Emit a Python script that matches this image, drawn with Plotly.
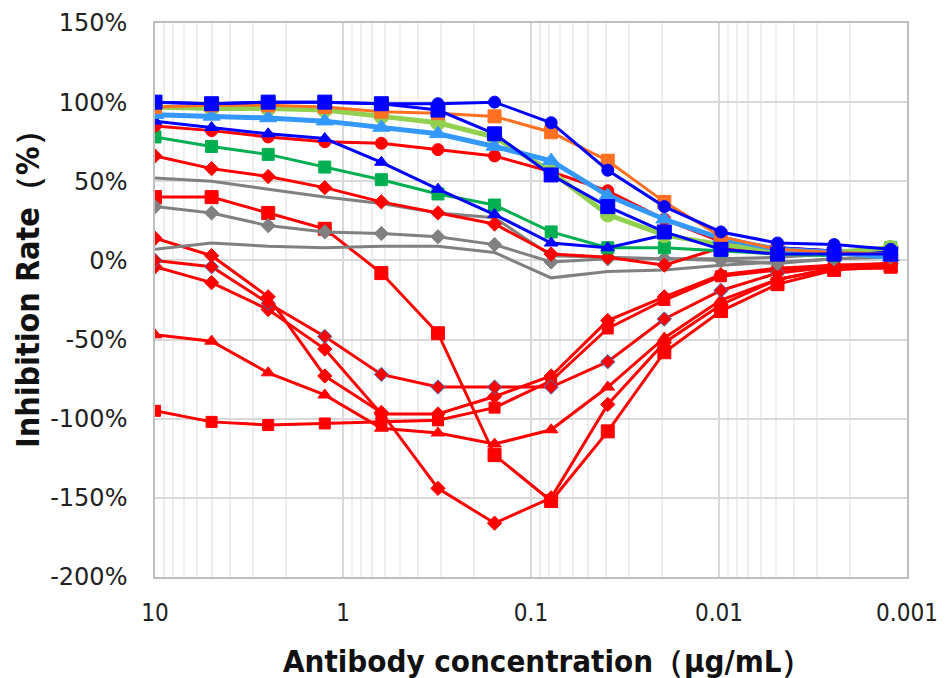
import plotly.graph_objects as go

# antibody concentrations (ug/mL), 2-fold dilution series
conc = [10, 5, 2.5, 1.25, 0.625, 0.3125, 0.15625, 0.078125, 0.0390625,
        0.01953125, 0.009765625, 0.0048828125, 0.00244140625, 0.001220703125]

# inhibition rate (%) per sample
blue_circle = [100, 99, 100, 100, 99, 99, 100, 87, 57, 34, 18, 11, 10, 7]
blue_square = [100, 99, 100, 100, 99, 95, 80, 54, 34, 18, 7, 4, 4, 4]
orange_square = [97, 98, 98, 97, 94, 93, 91, 81, 63, 37, 15, 7, 5, 4]
lgreen_circle = [97, 96, 96, 95, 91, 87, 78, 56, 29, 16, 10, 6, 5, 8]
lblue_triangle = [92, 91, 90, 88, 84, 80, 72, 63, 41, 26, 14, 7, 5, 2]
red_circle = [85, 82, 78, 75, 74, 70, 66, 56, 44, 26, 12, 8, 6, 5]
blue_triangle = [88, 84, 80, 77, 62, 45, 29, 11, 8, 16, 10, 8, 6, 5]
green_square = [78, 72, 67, 59, 51, 42, 35, 18, 8, 8, 6, 4, 3, 8]
red_diamond_up = [66, 58, 53, 46, 37, 30, 23, 4, 2, -3, 8, 6, 4, 3]
gray_line_1 = [52, 50, 45, 40, 36, 30, 27, 3, 2, 1, 1, 2, 4, 6]
gray_diamond = [34, 30, 22, 18, 17, 15, 10, -1, 1, 1, 0, -2, 1, 2]
gray_line_2 = [7, 11, 9, 8, 9, 9, 5, -11, -7, -6, -3, -1, 1, 3]
red_square_1 = [40, 40, 30, 20, -8, -46, -123, -152, -108, -58, -32, -15, -6, -4]
red_diamond_a = [14, 3, -23, -73, -96, -144, -166, -150, -91, -52, -28, -12, -5, -3]
red_diamond_b = [0, -4, -27, -48, -72, -80, -80, -80, -64, -37, -19, -8, -4, -2]
red_diamond_c = [-4, -14, -31, -56, -97, -97, -86, -73, -38, -23, -9, -5, -3, -2]
red_triangle = [-47, -51, -71, -85, -106, -109, -116, -107, -80, -49, -25, -12, -5, -5]
red_square_2 = [-95, -102, -104, -103, -102, -101, -93, -76, -43, -25, -10, -6, -3, -3]

x_ticks = [10, 1, 0.1, 0.01, 0.001]
x_labels = ['10', '1', '0.1', '0.01', '0.001']
y_ticks = [-200, -150, -100, -50, 0, 50, 100, 150]
y_labels = ['-200%', '-150%', '-100%', '-50%', '0%', '50%', '100%', '150%']

RED = '#FF0000'
BLUE = '#0000FF'
GRAY = '#808080'

# (values, colour, marker symbol, marker size, line width, marker outline)
series = [
    (red_square_2, RED, 'square', 11, 3, None),
    (red_triangle, RED, 'triangle-up', 12, 3, None),
    (red_diamond_c, RED, 'diamond', 11, 3, None),
    (red_diamond_b, RED, 'diamond', 11, 3, '#4472C4'),
    (red_diamond_a, RED, 'diamond', 11, 3, None),
    (red_square_1, RED, 'square', 13, 3, None),
    (gray_line_2, GRAY, None, 0, 3, None),
    (gray_diamond, GRAY, 'diamond', 11, 3, None),
    (gray_line_1, GRAY, None, 0, 3, None),
    (red_diamond_up, RED, 'diamond', 11, 3, None),
    (green_square, '#00B050', 'square', 12, 3, None),
    (red_circle, RED, 'circle', 12, 3, None),
    (blue_triangle, BLUE, 'triangle-up', 12, 3, None),
    (lgreen_circle, '#92D050', 'circle', 15, 5, None),
    (lblue_triangle, '#3399FF', 'triangle-up', 15, 5, None),
    (orange_square, '#FF7020', 'square', 13, 3, None),
    (blue_square, BLUE, 'square', 14, 3, None),
    (blue_circle, BLUE, 'circle', 12, 3, None),
]

fig = go.Figure()
for vals, col, sym, msize, lw, edge in series:
    if sym is None:
        fig.add_trace(go.Scatter(x=conc, y=vals, mode='lines',
                                 line=dict(color=col, width=lw)))
    else:
        fig.add_trace(go.Scatter(
            x=conc, y=vals, mode='lines+markers',
            line=dict(color=col, width=lw),
            marker=dict(symbol=sym, size=msize, color=col,
                        line=dict(color=edge if edge else col, width=1))))

# page body has an 8px margin, so margins are shifted by -8 to line up
fig.update_layout(
    width=946, height=678,
    margin=dict(l=147, r=47, t=15, b=109),
    paper_bgcolor='white', plot_bgcolor='white',
    showlegend=False,
    xaxis=dict(type='log', range=[1, -3], tickvals=x_ticks, ticktext=x_labels,
               automargin=False,
               showgrid=True, gridcolor='#D9D9D9', gridwidth=1.5,
               minor=dict(showgrid=True, gridcolor='#EEEEEE', dtick='D1', ticks=''),
               showline=True, linecolor='#BFBFBF', linewidth=1.5, mirror=True,
               zeroline=False, ticks='', ticklabelstandoff=13,
               tickfont=dict(family='DejaVu Sans Condensed', size=24, color='#222222')),
    yaxis=dict(range=[-200, 150], tickvals=y_ticks, ticktext=y_labels,
               automargin=False,
               showgrid=True, gridcolor='#D9D9D9', gridwidth=1.5,
               showline=True, linecolor='#BFBFBF', linewidth=1.5, mirror=True,
               zeroline=False, ticks='', ticklabelstandoff=21,
               tickfont=dict(family='DejaVu Sans', size=24, color='#222222')),
    annotations=[
        dict(text='<b>Antibody concentration（μg/mL）</b>', xref='paper', yref='paper',
             x=0.523, y=-0.152, xanchor='center', yanchor='middle', showarrow=False,
             font=dict(family='DejaVu Sans Condensed', size=31, color='#111111')),
        dict(text='<b>Inhibition Rate（%）</b>', xref='paper', yref='paper',
             x=-0.169, y=0.534, xanchor='center', yanchor='middle', showarrow=False,
             textangle=-90,
             font=dict(family='DejaVu Sans Condensed', size=32, color='#111111')),
    ],
)

fig.write_html('out.html')
